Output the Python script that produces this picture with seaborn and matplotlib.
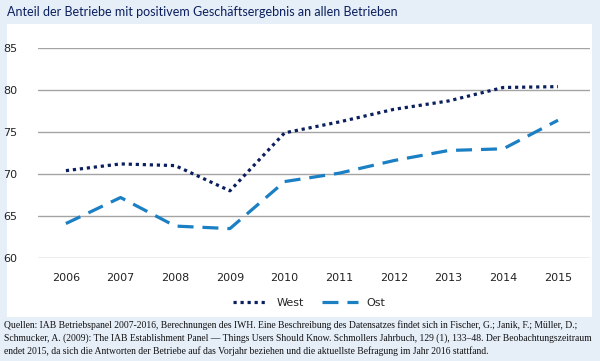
import pandas as pd
import matplotlib.pyplot as plt
import seaborn as sns
from matplotlib.patches import Rectangle
from matplotlib.lines import Line2D

# Werte
jahre = [2006, 2007, 2008, 2009, 2010, 2011, 2012, 2013, 2014, 2015]
west = [70.4, 71.2, 71.0, 68.0, 74.9, 76.2, 77.7, 78.7, 80.3, 80.4]
ost = [64.1, 67.2, 63.8, 63.5, 69.1, 70.1, 71.6, 72.8, 73.0, 76.4]
y_ticks = [60, 65, 70, 75, 80, 85]

titel = "Anteil der Betriebe mit positivem Geschäftsergebnis an allen Betrieben"
quelle = ("Quellen: IAB Betriebspanel 2007-2016, Berechnungen des IWH. Eine Beschreibung des Datensatzes findet sich in Fischer, G.; Janik, F.; Müller, D.;\n"
          "Schmucker, A. (2009): The IAB Establishment Panel \u2014 Things Users Should Know. Schmollers Jahrbuch, 129 (1), 133\u201348. Der Beobachtungszeitraum\n"
          "endet 2015, da sich die Antworten der Betriebe auf das Vorjahr beziehen und die aktuellste Befragung im Jahr 2016 stattfand.")

df = pd.DataFrame({
    "Jahr": jahre * 2,
    "Wert": west + ost,
    "Region": ["West"] * len(jahre) + ["Ost"] * len(jahre),
})

sns.set_style("white")
navy = "#0b1f5e"
blau = "#1b7fc4"

fig = plt.figure(figsize=(6, 3.61), dpi=100)
fig.patch.set_facecolor("#e6eef8")
fig.patches.append(Rectangle((7 / 600, 1 - 317 / 361), 585 / 600, 293 / 361,
                             transform=fig.transFigure, facecolor="white",
                             edgecolor="none", zorder=-5))

ax = fig.add_axes([38 / 600, 1 - 258 / 361, 552 / 600, 210 / 361])
ax.set_facecolor("none")
ax.set_zorder(2)

sns.lineplot(data=df, x="Jahr", y="Wert", hue="Region", style="Region",
             palette={"West": navy, "Ost": blau},
             dashes={"West": (1, 1.2), "Ost": (5, 2.8)},
             linewidth=2.3, ax=ax, legend=False)

ax.set_xlim(2005.49, 2015.585)
ax.set_ylim(60, 85)
ax.set_yticks(y_ticks)
ax.set_xticks(jahre)
ax.set_xlabel("")
ax.set_ylabel("")
for y in y_ticks:
    ax.axhline(y, color="#a4a4a4", lw=1, zorder=0)
for s in ax.spines.values():
    s.set_visible(False)
ax.tick_params(axis="both", length=0, labelsize=8, colors="#222222")
ax.tick_params(axis="y", pad=15)
ax.tick_params(axis="x", pad=11)

handles = [Line2D([], [], color=navy, lw=2.3, dashes=(1, 1.2)),
           Line2D([], [], color=blau, lw=2.3, dashes=(5, 2.8))]
fig.legend(handles, ["West", "Ost"], loc="center", ncol=2, frameon=False,
           bbox_to_anchor=(0.515, 1 - 303 / 361), fontsize=8, handlelength=3.2,
           columnspacing=1.6)

fig.text(7 / 600, 1 - 12 / 361, titel, fontsize=9, color=navy,
         family="Lato", va="center", ha="left")
fig.text(4 / 600, 1 - 338 / 361, quelle, fontsize=6.95, color="#111111",
         family="Liberation Serif", va="center", ha="left", linespacing=1.45)

fig.savefig("out.png", dpi=100)
